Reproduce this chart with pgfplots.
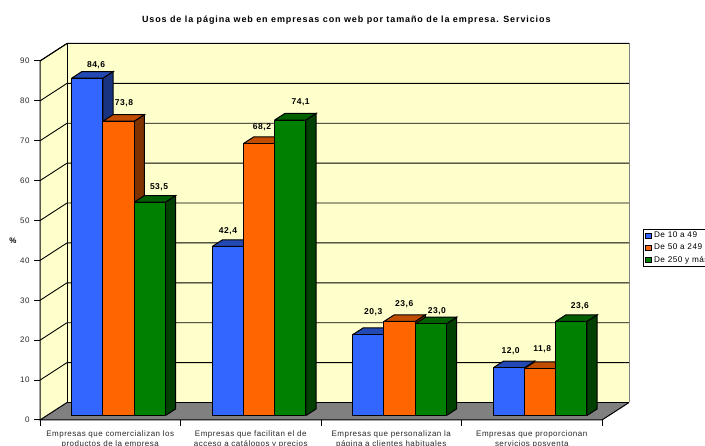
\documentclass[border=0pt]{standalone}
\usepackage{fontspec}
\setmainfont[LetterSpace=6]{Liberation Sans}
\usepackage{pgfplots}
\pgfplotsset{compat=1.18}
\definecolor{muro}{RGB}{255,255,204}
\definecolor{azulf}{RGB}{51,102,255}
\definecolor{azult}{RGB}{35,73,180}
\definecolor{azuls}{RGB}{26,51,128}
\definecolor{narf}{RGB}{255,102,0}
\definecolor{nart}{RGB}{192,77,0}
\definecolor{nars}{RGB}{128,51,0}
\definecolor{verf}{RGB}{0,128,0}
\definecolor{vert}{RGB}{0,96,0}
\definecolor{vers}{RGB}{0,64,0}
\definecolor{texto}{RGB}{40,40,40}

% x0, x1, value, front, top, side, label, label shift x, label shift y
\newcommand{\barra}[9]{
  \addplot3[fill=#6,draw=black,line width=1pt,forget plot] coordinates {(#2,0.25,0) (#2,0.63,0) (#2,0.63,#3) (#2,0.25,#3) (#2,0.25,0)};
  \addplot3[fill=#5,draw=black,line width=1pt,forget plot] coordinates {(#1,0.25,#3) (#2,0.25,#3) (#2,0.63,#3) (#1,0.63,#3) (#1,0.25,#3)};
  \addplot3[fill=#4,draw=black,line width=1pt,forget plot] coordinates {(#1,0.25,0) (#2,0.25,0) (#2,0.25,#3) (#1,0.25,#3) (#1,0.25,0)};
  \node[font=\fontsize{8.5}{10}\selectfont\bfseries,text=black,inner sep=0pt,xshift=#8pt,yshift=#9pt] at (axis cs:#1,0.25,#3) {#7};
}

\begin{document}
\begin{tikzpicture}
\path[clip,use as bounding box] (0,0) rectangle (705pt,446pt);
\begin{axis}[
  at={(40pt,26pt)},anchor=origin,
  x={(140.5pt,0pt)},y={(27pt,17.5pt)},z={(0pt,3.989pt)},
  xmin=0,xmax=4,ymin=0,ymax=1,zmin=0,zmax=90,
  clip=false,
  axis line style={draw=none},
  major tick length=0pt,
  xtick={0.5,1.5,2.5,3.5},
  xticklabels={{Empresas que comercializan los\\productos de la empresa},
    {Empresas que facilitan el de\\acceso a catálogos y precios},
    {Empresas que personalizan la\\página a clientes habituales},
    {Empresas que proporcionan\\servicios posventa}},
  ytick=\empty,
  ztick={0,10,...,90},
  /pgf/number format/assume math mode=true,
  x tick label style={font=\fontsize{8}{9.7}\selectfont,text=texto,align=center,anchor=north,yshift=-7.6pt},
  z tick label style={font=\fontsize{8}{9}\selectfont,text=texto,anchor=east,xshift=-7pt},
  title={\addfontfeature{LetterSpace=10}\bfseries Usos de la página web en empresas con web por tamaño de la empresa. Servicios},
  title style={font=\fontsize{9}{10}\selectfont,at={(axis description cs:0.52,1.0)},anchor=center,yshift=17pt},
  zlabel={\bfseries\%},
  every axis z label/.style={font=\fontsize{8}{9}\selectfont,at={(axis description cs:-0.046,0.475)},anchor=center,rotate=0},
  legend style={at={(axis description cs:1.0238,0.508)},anchor=north west,draw=black,line width=0.8pt,
    font=\fontsize{8.2}{9}\selectfont,inner xsep=2pt,inner ysep=1pt,
    cells={anchor=west},row sep=0.7pt},
  legend image code/.code={\draw[#1] (0pt,-2.7pt) rectangle (5.8pt,2.7pt);},
]
% walls and floor
\addplot3[fill=muro,draw=none,forget plot] coordinates {(0,0,0) (0,1,0) (0,1,90) (0,0,90) (0,0,0)};
\addplot3[fill=muro,draw=none,forget plot] coordinates {(0,1,0) (4,1,0) (4,1,90) (0,1,90) (0,1,0)};
\addplot3[fill=black!50,draw=none,forget plot] coordinates {(0,0,0) (4,0,0) (4,1,0) (0,1,0) (0,0,0)};
\pgfplotsinvokeforeach{10,20,...,90}{
  \addplot3[black,line width=0.9pt,forget plot] coordinates {(0,0,#1) (0,1,#1) (4,1,#1)};
  \draw[black,line width=1pt] (axis cs:0,0,#1) -- ++(-6pt,0pt);
}
\draw[black,line width=1pt] (axis cs:0,0,0) -- ++(-6pt,0pt);
\addplot3[black!50,line width=1pt,forget plot] coordinates {(4,1,0) (4,1,90)};
\addplot3[black,line width=1pt,forget plot] coordinates {(0,0,0) (0,0,90) (0,1,90) (4,1,90)};
\addplot3[black,line width=1pt,forget plot] coordinates {(0,1,90) (0,1,0)};
\addplot3[black,line width=1.4pt,forget plot] coordinates {(0,1,0) (4,1,0)};
\addplot3[black,line width=1pt,forget plot] coordinates {(0,1,0) (0,0,0) (4,0,0) (4,1,0)};
\pgfplotsinvokeforeach{0,1,2,3,4}{
  \draw[black,line width=1pt] (axis cs:#1,0,0) -- ++(0pt,-6pt);
}
% bars
\barra{0.178}{0.400}{84.6}{azulf}{azult}{azuls}{84,6}{24.3}{13.1}
\barra{0.400}{0.622}{73.8}{narf}{nart}{nars}{73,8}{21}{18.2}
\barra{0.622}{0.844}{53.5}{verf}{vert}{vers}{53,5}{24.9}{15.2}
\barra{1.178}{1.400}{42.4}{azulf}{azult}{azuls}{42,4}{15.7}{15.5}
\barra{1.400}{1.622}{68.2}{narf}{nart}{nars}{68,2}{18.5}{15.9}
\barra{1.622}{1.844}{74.1}{verf}{vert}{vers}{74,1}{26}{18.3}
\barra{2.178}{2.400}{20.3}{azulf}{azult}{azuls}{20,3}{20.5}{22.6}
\barra{2.400}{2.622}{23.6}{narf}{nart}{nars}{23,6}{20.3}{17.5}
\barra{2.622}{2.844}{23.0}{verf}{vert}{vers}{23,0}{21.8}{12.9}
\barra{3.178}{3.400}{12.0}{azulf}{azult}{azuls}{12,0}{17.4}{16.7}
\barra{3.400}{3.622}{11.8}{narf}{nart}{nars}{11,8}{17.8}{19.5}
\barra{3.622}{3.844}{23.6}{verf}{vert}{vers}{23,6}{24.3}{15.5}
\addlegendimage{fill=azulf,draw=black,line width=0.8pt}
\addlegendentry{De 10 a 49}
\addlegendimage{fill=narf,draw=black,line width=0.8pt}
\addlegendentry{De 50 a 249}
\addlegendimage{fill=verf,draw=black,line width=0.8pt}
\addlegendentry{De 250 y más}
\end{axis}
\end{tikzpicture}
\end{document}
